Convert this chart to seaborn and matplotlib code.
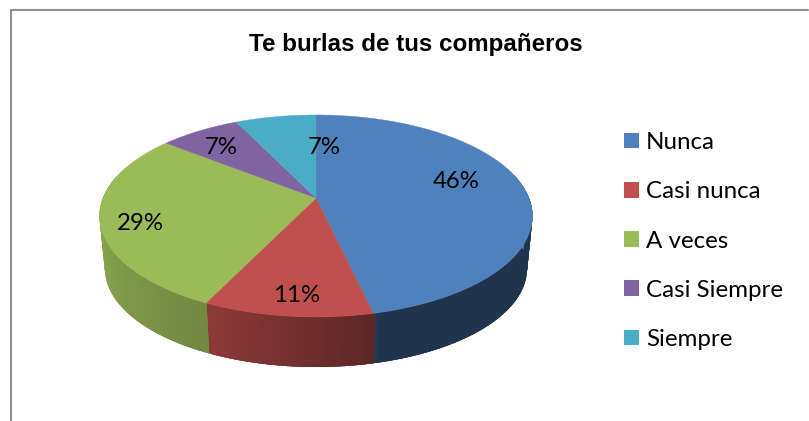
import numpy as np
import matplotlib
matplotlib.use('Agg')
import matplotlib.pyplot as plt
from matplotlib.patches import Polygon, Patch
import seaborn as sns

title = 'Te burlas de tus compañeros'
categories = ['Nunca', 'Casi nunca', 'A veces', 'Casi Siempre', 'Siempre']
counts = [13, 3, 8, 2, 2]
colors = ['#4F81BD', '#C0504D', '#9BBB59', '#8064A2', '#4BACC6']

sns.set_theme(style='white')
plt.rcParams['font.family'] = ['Lato', 'DejaVu Sans']

fig, ax = plt.subplots(figsize=(8.09, 4.21), dpi=100)
ax.set_position([0, 0, 1, 1])

wedges, texts, pcts = ax.pie(counts, colors=sns.color_palette(colors), startangle=90,
                             counterclock=False, autopct='%1.0f%%')

# switch to pixel coordinates for the tilted pie
ax.set_aspect('auto')
ax.set_xlim(0, 809)
ax.set_ylim(421, 0)
ax.axis('off')


def project(angles, scale=1.0, drop=0.0):
    # perspective view of a unit circle seen from above
    u = np.cos(np.radians(angles))
    v = np.sin(np.radians(angles))
    d = 1 + 0.178 * v
    return 316 + 213 * scale * u / d, 198 + drop - 97.8 * scale * v / d


def shade(angle):
    a = (angle + 360) % 360
    return np.interp(a, [180, 245, 283, 284], [0.92, 0.73, 0.48, 0.41])


# side wall, front part only, then the top on it
for w, c in zip(wedges, colors):
    base = np.array(matplotlib.colors.to_rgb(c))
    th = np.arange(w.theta1, w.theta2 + 0.5, 0.5)
    th = th[np.sin(np.radians(th)) < 0.25]
    for a in th[:-1]:
        # each strip overlaps the next one so no seams show
        pair = np.array([a, min(a + 1.5, th[-1])])
        x1, y1 = project(pair)
        x2, y2 = project(pair[::-1], 0.975, 53)
        ax.add_patch(Polygon(np.column_stack([np.r_[x1, x2], np.r_[y1, y2]]),
                             facecolor=base * shade(a), edgecolor='none', zorder=2))

for w, c in zip(wedges, colors):
    th = np.linspace(w.theta1, w.theta2, 120)
    x, y = project(th)
    ax.add_patch(Polygon(np.column_stack([np.r_[316, x], np.r_[198, y]]),
                         facecolor=c, edgecolor=c, lw=0.3, zorder=3))
    w.set_visible(False)

label_pos = [(456, 182), (297, 296), (140, 224), (221, 148), (324, 147)]
for t, p in zip(pcts, label_pos):
    t.set_position(p)
    t.set_fontsize(17.3)
    t.set_color('black')
    t.set_zorder(5)

ax.text(415.5, 44, title, ha='center', va='center', fontsize=17.4, fontweight='bold',
        family='Liberation Sans', color='black')

handles = [Patch(facecolor=c, edgecolor='none') for c in colors]
ax.legend(handles, categories, loc='upper left', bbox_to_anchor=(624 / 809, 1 - 132 / 421),
          frameon=False, fontsize=17.4, handlelength=0.62, handleheight=0.62,
          handletextpad=0.3, labelspacing=1.17, borderpad=0, borderaxespad=0,
          labelcolor='black')

# chart border, cut off by the picture
ax.plot([11.2, 11.2, 808], [421, 9.5, 9.5], color='#8E8E8E', lw=1.5, clip_on=False,
        solid_joinstyle='miter')

fig.savefig('out.png', dpi=100)
